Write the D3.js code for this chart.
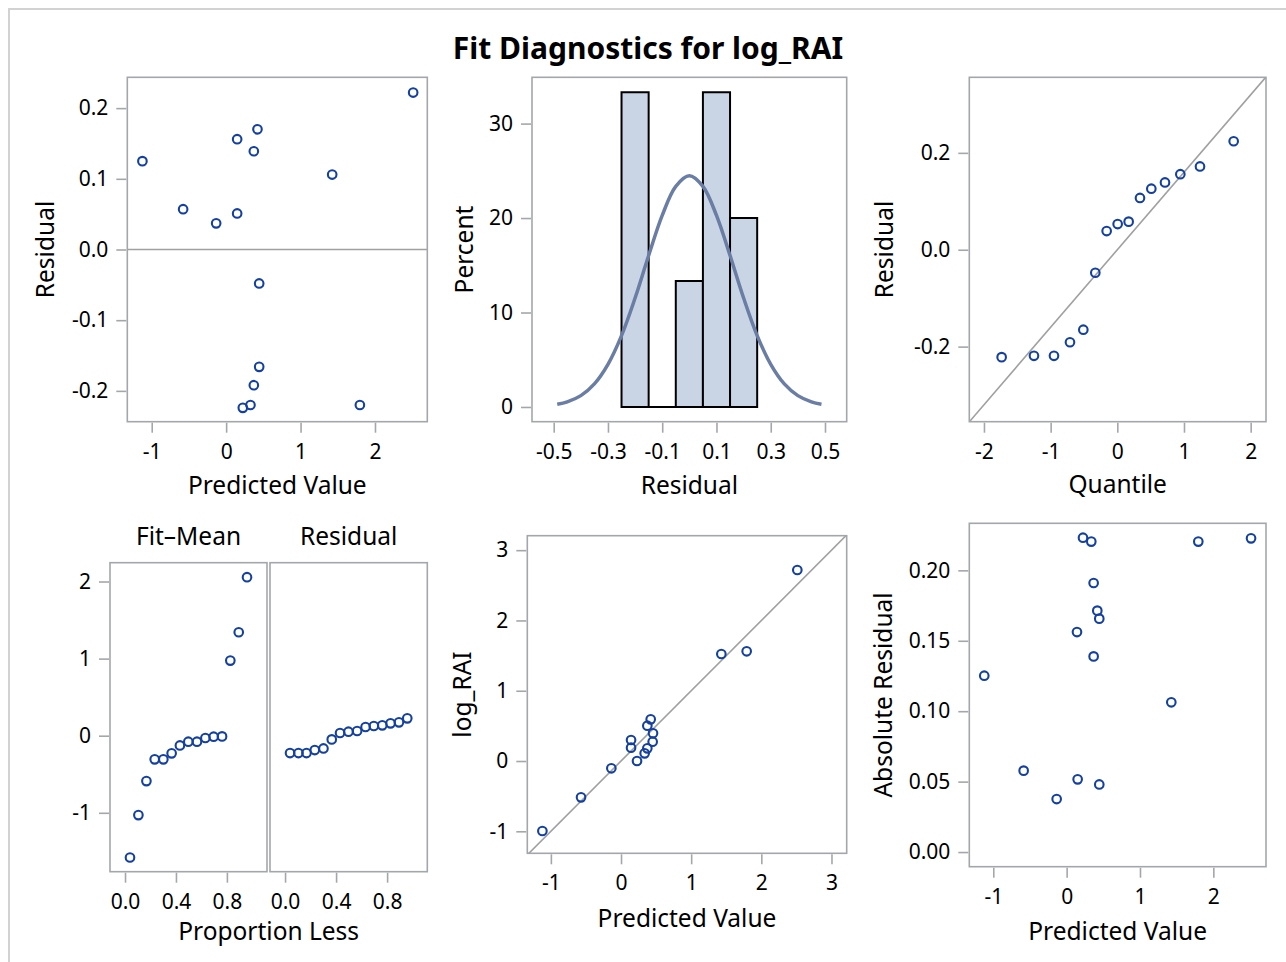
<!DOCTYPE html>
<html><head><meta charset="utf-8">
<script src="https://cdn.jsdelivr.net/npm/d3@7"></script>
<style>
body{margin:0;background:#fff}
svg{display:block}
text{font-family:"Noto Sans",sans-serif;fill:#000}
</style>
</head><body>
<svg id="chart" width="1286" height="962"></svg>
<script>
// ---------- data ----------
// Panel 1: Residual vs Predicted
const predicted = [2.513,-1.125,0.148,0.421,0.372,1.425,-0.578,-0.134,0.148,0.444,0.444,0.372,0.224,0.327,1.797];
const residual  = [0.222,0.125,0.156,0.170,0.139,0.106,0.057,0.037,0.051,-0.048,-0.166,-0.192,-0.224,-0.220,-0.220];
// Panel 2: histogram of residuals
const histEdges   = [-0.25,-0.15,-0.05,0.05,0.15,0.25];
const histPercent = [33.33,0,13.33,33.33,20];
const curveX   = [-0.487,-0.45,-0.40,-0.35,-0.30,-0.25,-0.20,-0.15,-0.10,-0.05,0,0.05,0.10,0.15,0.20,0.25,0.30,0.35,0.40,0.45,0.487];
const curvePct = [0.28,0.54,1.20,2.44,4.51,7.55,11.53,16.03,20.28,23.35,24.47,23.35,20.28,16.03,11.53,7.55,4.51,2.44,1.20,0.54,0.28];
// Panel 3: Q-Q plot
const qqQuantile = [-1.735,-1.25,-0.95,-0.71,-0.51,-0.33,-0.16,0.005,0.17,0.34,0.51,0.715,0.945,1.24,1.745];
const qqResidual = [-0.2217,-0.219,-0.219,-0.191,-0.165,-0.0475,0.0386,0.053,0.058,0.107,0.126,0.139,0.156,0.172,0.224];
const qqLineIntercept = 0, qqLineSlope = 0.16;
// Panel 4: residual-fit spread
const propLess    = [0.039,0.105,0.168,0.233,0.301,0.366,0.431,0.497,0.565,0.631,0.696,0.762,0.827,0.893,0.958];
const fitMinusMean = [-1.580,-1.030,-0.589,-0.307,-0.307,-0.229,-0.126,-0.078,-0.078,-0.030,-0.013,-0.009,0.974,1.342,2.056];
const sortedResid = [-0.225,-0.225,-0.225,-0.186,-0.165,-0.048,0.035,0.052,0.061,0.113,0.126,0.134,0.160,0.173,0.225];
const spreadHeaders = ["Fit\u2013Mean","Residual"];
// Panel 5: observed vs predicted
const obsPredicted = [2.513,-1.121,-0.570,-0.138,0.228,0.143,0.143,0.337,0.375,0.375,0.423,0.456,0.451,1.430,1.791];
const logRAI       = [2.718,-0.996,-0.517,-0.104,0.0,0.299,0.190,0.109,0.180,0.503,0.593,0.394,0.275,1.523,1.561];
// Panel 6: absolute residual vs predicted
const absPredicted = [0.223,0.336,1.795,2.514,0.368,0.418,0.445,0.141,0.368,-1.123,1.427,-0.586,0.150,0.445,-0.136];
const absResidual  = [0.2232,0.2204,0.2204,0.2227,0.191,0.1714,0.1657,0.1562,0.1389,0.1252,0.1063,0.0578,0.0516,0.0480,0.0376];

// tick values / labels
const p1XTicks = [-1,0,1,2],            p1XLabels = ["-1","0","1","2"];
const p1YTicks = [-0.2,-0.1,0,0.1,0.2], p1YLabels = ["-0.2","-0.1","0.0","0.1","0.2"];
const p2XTicks = [-0.5,-0.3,-0.1,0.1,0.3,0.5], p2XLabels = ["-0.5","-0.3","-0.1","0.1","0.3","0.5"];
const p2YTicks = [0,10,20,30],          p2YLabels = ["0","10","20","30"];
const p3XTicks = [-2,-1,0,1,2],         p3XLabels = ["-2","-1","0","1","2"];
const p3YTicks = [-0.2,0,0.2],          p3YLabels = ["-0.2","0.0","0.2"];
const p4XTicks = [0,0.4,0.8],           p4XLabels = ["0.0","0.4","0.8"];
const p4YTicks = [-1,0,1,2],            p4YLabels = ["-1","0","1","2"];
const p5XTicks = [-1,0,1,2,3],          p5XLabels = ["-1","0","1","2","3"];
const p5YTicks = [-1,0,1,2,3],          p5YLabels = ["-1","0","1","2","3"];
const p6XTicks = [-1,0,1,2],            p6XLabels = ["-1","0","1","2"];
const p6YTicks = [0,0.05,0.10,0.15,0.20], p6YLabels = ["0.00","0.05","0.10","0.15","0.20"];

// ---------- styling ----------
const FRAME = "#a4a7aa", MARK = "#1440a0", TICKFS = 21, LABFS = 24.5;
const svg = d3.select("#chart");

svg.append("rect").attr("x",9).attr("y",9).attr("width",1300).attr("height",980)
  .attr("fill","none").attr("stroke","#d2d2d2").attr("stroke-width",2);

svg.append("text").attr("x",648).attr("y",59).attr("text-anchor","middle")
  .attr("font-size",30).attr("font-weight","bold").text("Fit Diagnostics for log_RAI");

let clipId = 0;
function panel(o){
  const g = svg.append("g");
  const x = d3.scaleLinear().domain(o.xd).range([o.x0,o.x1]);
  const y = d3.scaleLinear().domain(o.yd).range([o.y1,o.y0]);
  const id = "clip"+(clipId++);
  svg.append("clipPath").attr("id",id).append("rect")
    .attr("x",o.x0).attr("y",o.y0).attr("width",o.x1-o.x0).attr("height",o.y1-o.y0);
  const plot = g.append("g").attr("clip-path",`url(#${id})`);
  const marks = g.append("g");
  g.append("rect").attr("x",o.x0).attr("y",o.y0).attr("width",o.x1-o.x0).attr("height",o.y1-o.y0)
    .attr("fill","none").attr("stroke",FRAME).attr("stroke-width",1.6);
  if(o.xt){
    const ax = g.append("g").attr("transform",`translate(0,${o.y1+1})`)
      .call(d3.axisBottom(x).tickValues(o.xt).tickFormat((d,i)=>o.xl[i]).tickSize(10).tickPadding(11).tickSizeOuter(0));
    styleAxis(ax);
  }
  if(o.yt){
    const ay = g.append("g").attr("transform",`translate(${o.x0-1},0)`)
      .call(d3.axisLeft(y).tickValues(o.yt).tickFormat((d,i)=>o.yl[i]).tickSize(10).tickPadding(8).tickSizeOuter(0));
    styleAxis(ay);
  }
  if(o.xlabel) g.append("text").attr("x",(o.x0+o.x1)/2).attr("y",o.xlabelY).attr("text-anchor","middle")
      .attr("font-size",LABFS).text(o.xlabel);
  if(o.ylabel) g.append("text").attr("transform",`translate(${o.ylabelX},${(o.y0+o.y1)/2}) rotate(-90)`)
      .attr("text-anchor","middle").attr("font-size",LABFS).text(o.ylabel);
  return {x,y,plot,marks,g};
}
function styleAxis(a){
  a.select(".domain").remove();
  a.selectAll(".tick line").attr("stroke",FRAME).attr("stroke-width",1.6);
  a.selectAll(".tick text").attr("font-size",TICKFS).attr("font-family","Noto Sans").attr("fill","#000");
}
function points(p, xs, ys){
  p.marks.selectAll(null).data(xs).join("circle")
    .attr("cx",(d)=>p.x(d)).attr("cy",(d,i)=>p.y(ys[i])).attr("r",4.3)
    .attr("fill","none").attr("stroke",MARK).attr("stroke-width",2.1);
}
function refLine(p, a, b){
  const [x0,x1] = p.x.domain();
  p.plot.append("line").attr("x1",p.x(x0)).attr("y1",p.y(a+b*x0)).attr("x2",p.x(x1)).attr("y2",p.y(a+b*x1))
    .attr("stroke","#a0a0a0").attr("stroke-width",1.6);
}

// Panel 1
const p1 = panel({x0:127.3,x1:427.3,y0:77.3,y1:421.7,xd:[-1.328,2.703],yd:[-0.2436,0.2436],
  xt:p1XTicks,xl:p1XLabels,yt:p1YTicks,yl:p1YLabels,xlabel:"Predicted Value",xlabelY:494,ylabel:"Residual",ylabelX:54});
refLine(p1,0,0);
points(p1,predicted,residual);

// Panel 2
const p2 = panel({x0:532,x1:846.7,y0:77.3,y1:421.7,xd:[-0.58,0.58],yd:[-1.56,34.9],
  xt:p2XTicks,xl:p2XLabels,yt:p2YTicks,yl:p2YLabels,xlabel:"Residual",xlabelY:494,ylabel:"Percent",ylabelX:473});
p2.plot.selectAll(null).data(histPercent).join("path")
  .attr("d",(d,i)=>{const a=p2.x(histEdges[i]),b=p2.x(histEdges[i+1]),t=p2.y(d),z=p2.y(0);
     return `M${a},${z}V${t}H${b}V${z}Z`;})
  .attr("fill","#c9d4e4").attr("stroke","#000").attr("stroke-width",2);
p2.plot.append("path").datum(curveX)
  .attr("d",d3.line().x(d=>p2.x(d)).y((d,i)=>p2.y(curvePct[i])).curve(d3.curveCatmullRom))
  .attr("fill","none").attr("stroke","#6a7ea5").attr("stroke-width",3.5);

// Panel 3
const p3 = panel({x0:969.3,x1:1266,y0:77.3,y1:421.7,xd:[-2.22,2.23],yd:[-0.355,0.356],
  xt:p3XTicks,xl:p3XLabels,yt:p3YTicks,yl:p3YLabels,xlabel:"Quantile",xlabelY:493,ylabel:"Residual",ylabelX:892.5});
refLine(p3,qqLineIntercept,qqLineSlope);
points(p3,qqQuantile,qqResidual);

// Panel 4
const p4a = panel({x0:110,x1:267,y0:562.7,y1:871.7,xd:[-0.118,1.115],yd:[-1.764,2.244],
  xt:p4XTicks,xl:p4XLabels,yt:p4YTicks,yl:p4YLabels});
points(p4a,propLess,fitMinusMean);
const p4b = panel({x0:270,x1:427.3,y0:562.7,y1:871.7,xd:[-0.118,1.115],yd:[-1.764,2.244],
  xt:p4XTicks,xl:p4XLabels});
points(p4b,propLess,sortedResid);
[p4a,p4b].forEach((p,i)=>{
  const [a,b]=p.x.range();
  svg.append("text").attr("x",(a+b)/2).attr("y",545).attr("text-anchor","middle")
    .attr("font-size",LABFS).text(spreadHeaders[i]);
});
svg.append("text").attr("x",(110+427.3)/2).attr("y",940).attr("text-anchor","middle")
  .attr("font-size",LABFS).text("Proportion Less");

// Panel 5
const p5 = panel({x0:527.3,x1:846.7,y0:535.7,y1:853.3,xd:[-1.336,3.217],yd:[-1.313,3.206],
  xt:p5XTicks,xl:p5XLabels,yt:p5YTicks,yl:p5YLabels,xlabel:"Predicted Value",xlabelY:927,ylabel:"log_RAI",ylabelX:471});
refLine(p5,0,1);
points(p5,obsPredicted,logRAI);

// Panel 6
const p6 = panel({x0:969.3,x1:1266,y0:523.3,y1:866.7,xd:[-1.327,2.718],yd:[-0.0104,0.2334],
  xt:p6XTicks,xl:p6XLabels,yt:p6YTicks,yl:p6YLabels,xlabel:"Predicted Value",xlabelY:940,ylabel:"Absolute Residual",ylabelX:892});
points(p6,absPredicted,absResidual);
</script>
</body></html>
